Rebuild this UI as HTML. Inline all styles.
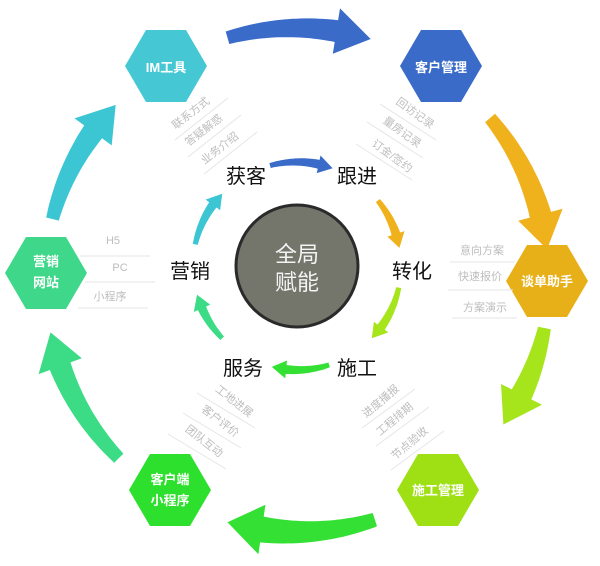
<!DOCTYPE html>
<html><head><meta charset="utf-8"><style>
html,body{margin:0;padding:0;background:#fff;}
svg{display:block;font-family:"Liberation Sans","Noto Sans CJK SC",sans-serif;}
</style></head><body>
<svg id="s" width="600" height="566" viewBox="0 0 600 566" xmlns="http://www.w3.org/2000/svg">
<g id="arrows"></g>
<g id="hex"></g>
<circle cx="297" cy="266" r="61" fill="#74756b" stroke="#2a2a2a" stroke-width="3"/>
<text x="297" y="262" fill="#f4f4f4" font-size="22" text-anchor="middle">全局</text>
<text x="297" y="290" fill="#f4f4f4" font-size="22" text-anchor="middle">赋能</text>
<g font-size="20" fill="#111" text-anchor="middle">
<text x="246" y="183">获客</text>
<text x="357" y="183">跟进</text>
<text x="412" y="278">转化</text>
<text x="190" y="278">营销</text>
<text x="357" y="375">施工</text>
<text x="243" y="375">服务</text>
</g>
<g font-size="13" fill="#fff" font-weight="bold" text-anchor="middle">
<text x="166" y="72">IM工具</text>
<text x="441" y="72">客户管理</text>
<text x="547" y="286">谈单助手</text>
<text x="46" y="266">营销</text><text x="46" y="287">网站</text>
<text x="170" y="484">客户端</text><text x="170" y="505">小程序</text>
<text x="438" y="495">施工管理</text>
</g>
<g font-size="11" fill="#bdbdbd" text-anchor="middle" id="sub">
<text transform="translate(193,116) rotate(-38)">联系方式</text>
<text transform="translate(206,133) rotate(-38)">答疑解惑</text>
<text transform="translate(222,151) rotate(-38)">业务介绍</text>
<text transform="translate(413,116) rotate(36)">回访记录</text>
<text transform="translate(400,135) rotate(36)">量房记录</text>
<text transform="translate(390,159) rotate(36)">订金/签约</text>
<text x="113" y="244">H5</text>
<text x="120" y="271">PC</text>
<text x="110" y="300">小程序</text>
<text x="482" y="254">意向方案</text>
<text x="480" y="280">快速报价</text>
<text x="485" y="311">方案演示</text>
<text transform="translate(383,404) rotate(-40)">进度播报</text>
<text transform="translate(397,422) rotate(-40)">工程排期</text>
<text transform="translate(412,446) rotate(-40)">节点验收</text>
<text transform="translate(232,404) rotate(38)">工地进展</text>
<text transform="translate(218,424) rotate(38)">客户评价</text>
<text transform="translate(202,444) rotate(38)">团队互动</text>
</g>
<g stroke="#e6e6e6" stroke-width="1">
<line x1="175" y1="140" x2="228" y2="98"/>
<line x1="188" y1="157" x2="241" y2="115"/>
<line x1="204" y1="174" x2="257" y2="132"/>
<line x1="380" y1="104" x2="436" y2="140"/>
<line x1="367" y1="122" x2="423" y2="158"/>
<line x1="356" y1="144" x2="412" y2="180"/>
<line x1="80" y1="256" x2="150" y2="256"/>
<line x1="85" y1="282" x2="155" y2="282"/>
<line x1="78" y1="308" x2="148" y2="308"/>
<line x1="450" y1="262" x2="515" y2="262"/>
<line x1="448" y1="290" x2="513" y2="290"/>
<line x1="452" y1="318" x2="517" y2="318"/>
<line x1="362" y1="428" x2="415" y2="389"/>
<line x1="376" y1="446" x2="429" y2="407"/>
<line x1="391" y1="470" x2="444" y2="431"/>
<line x1="197" y1="393" x2="255" y2="428"/>
<line x1="183" y1="413" x2="241" y2="448"/>
<line x1="168" y1="434" x2="226" y2="469"/>
</g>
</svg>
<script>
var NS="http://www.w3.org/2000/svg";
function P(cx,cy,r,a){a=a*Math.PI/180;return (cx+r*Math.cos(a)).toFixed(1)+","+(cy+r*Math.sin(a)).toFixed(1);}
function arrow(cx,cy,r,a0,a1,w0,w1,H,hl,color){
 var o=[],inn=[],n=30,ab=a1-hl;
 for(var i=0;i<=n;i++){var a=a0+(ab-a0)*i/n,w=w0+(w1-w0)*i/n;o.push(P(cx,cy,r+w/2,a));inn.push(P(cx,cy,r-w/2,a));}
 var pts=o.concat([P(cx,cy,r+H/2,ab),P(cx,cy,r,a1),P(cx,cy,r-H/2,ab)]).concat(inn.reverse());
 var p=document.createElementNS(NS,"polygon");p.setAttribute("points",pts.join(" "));p.setAttribute("fill",color);
 document.getElementById("arrows").appendChild(p);
}
var cx=297,cy=280,R=252;
arrow(cx,cy,R,-106,-73,13,22,46,8,"#3a6bc9");
arrow(cx,cy,R,-40,-7,13,22,46,8,"#f0b21c");
arrow(cx,cy,R,11,35,13,22,46,8,"#a6e41c");
arrow(cx,cy,R,72,106,14,26,50,8,"#35e035");
arrow(cx,cy,R,135,168,13,22,46,8,"#3cdc86");
arrow(cx,cy,R,194,224,13,22,46,8,"#3cc6d4");
var ix=297,iy=266,ir=104;
arrow(ix,iy,ir,-105,-70,5,9,18,8,"#3a6bc9");
arrow(ix,iy,ir,-39,-10,5,9,18,8,"#f0b21c");
arrow(ix,iy,ir,12,44,5,9,18,8,"#a6e41c");
arrow(ix,iy,ir,72,104,5,9,18,8,"#35e035");
arrow(ix,iy,ir,136,164,5,9,18,8,"#3cdc86");
arrow(ix,iy,ir,192,224,5,9,18,8,"#3cc6d4");
function hex(x,y,c){var p=document.createElementNS(NS,"polygon");
 p.setAttribute("points",[(x-41)+","+y,(x-20)+","+(y-36),(x+20)+","+(y-36),(x+41)+","+y,(x+20)+","+(y+36),(x-20)+","+(y+36)].join(" "));
 p.setAttribute("fill",c);document.getElementById("hex").appendChild(p);}
hex(166,66,"#45c8d4");hex(441,66,"#3a6bc9");hex(547,281,"#e8b018");
hex(46,273,"#3fd88a");hex(170,490,"#2ee02e");hex(438,490,"#9ee014");
</script>
</body></html>
